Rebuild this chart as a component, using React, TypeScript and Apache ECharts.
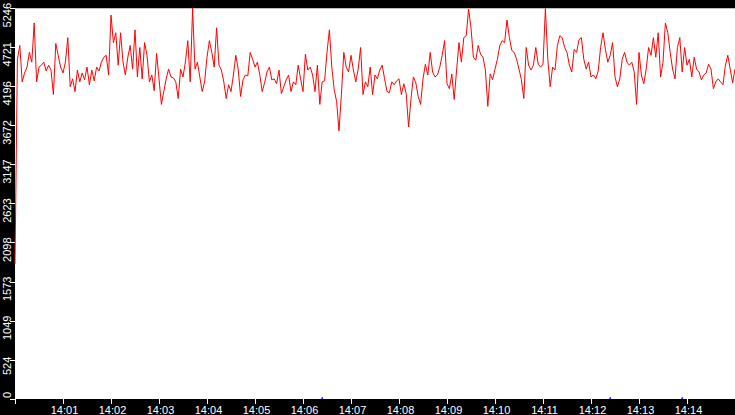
import React, { useEffect, useRef } from 'react';
import * as echarts from 'echarts';

// samples every 3 s starting 14:00:00
const START = new Date(2024, 0, 1, 14, 0, 0).getTime();
const STEP_MS = 3000;
const SPAN_MS = 15 * 60 * 1000;

const values: number[] = [
  1811, 4561, 4746, 4258, 4377, 4456, 4653, 4522, 5048, 4258,
  4456, 4482, 4522, 4403, 4482, 4416, 4087, 4772, 4614, 4456,
  4377, 4522, 4851, 4192, 4298, 4127, 4416, 4258, 4377, 4285,
  4456, 4219, 4416, 4271, 4456, 4403, 4522, 4588, 4614, 4350,
  5154, 4785, 4917, 4482, 4917, 4522, 4350, 4588, 4746, 4429,
  4956, 4324, 4719, 4298, 4785, 4614, 4258, 4350, 4140, 4640,
  4298, 3955, 4127, 4298, 4429, 4324, 4311, 4258, 4034, 4429,
  4324, 4522, 4811, 4258, 5246, 4429, 4522, 4324, 4127, 4258,
  4588, 4811, 4653, 4456, 4983, 4482, 4416, 4258, 4034, 4219,
  4127, 4350, 4614, 4429, 4061, 4285, 4350, 4338, 4653, 4561,
  4456, 4522, 4350, 4127, 4245, 4390, 4456, 4285, 4298, 4232,
  4416, 4100, 4192, 4285, 4350, 4127, 4258, 4219, 4482, 4298,
  4127, 4627, 4416, 4456, 4350, 4127, 4482, 3955, 4258, 4271,
  4653, 4956, 4456, 4153, 3995, 3600, 4087, 4653, 4456, 4390,
  4614, 4416, 4258, 4429, 4719, 4087, 4258, 4192, 4456, 4087,
  4350, 4298, 4416, 4482, 4298, 4127, 4114, 4258, 4219, 4271,
  4298, 4087, 4232, 4100, 3652, 4034, 4324, 4245, 4061, 3955,
  4298, 4495, 4350, 4653, 4390, 4324, 4350, 4456, 4614, 4811,
  4232, 4166, 4364, 4021, 4416, 4785, 4522, 4851, 4877, 5233,
  4983, 4588, 4548, 4746, 4627, 4588, 4416, 3929, 4364, 4285,
  4429, 4561, 4746, 4811, 4785, 5088, 4851, 4680, 4653, 4561,
  4429, 4285, 4034, 4719, 4482, 4416, 4482, 4719, 4495, 4456,
  4495, 5240, 4561, 4192, 4456, 4416, 4746, 4877, 4851, 4719,
  4653, 4482, 4390, 4693, 4653, 4825, 4851, 4561, 4429, 4522,
  4324, 4350, 4298, 4403, 4719, 4917, 4693, 4522, 4614, 4785,
  4324, 4192, 4298, 4561, 4653, 4522, 4482, 4522, 4390, 3955,
  4653, 4350, 4232, 4429, 4719, 4614, 4851, 4588, 4917, 4324,
  4522, 5048, 4917, 4653, 4429, 4298, 4719, 4851, 4390, 4719,
  4482, 4561, 4324, 4588, 4429, 4390, 4285, 4350, 4377, 4495,
  4429, 4166, 4258, 4298, 4258, 4219, 4482, 4614, 4429, 4245, 4429,
];

// small blue marks sitting on the time axis (sample index, value)
const blueIndex: number[] = [128, 248, 278];
const blueValues: number[] = [10, 10, 10];

const Y_MAX = 5246;
const Y_SPLITS = 10;

const FONT = 'Liberation Sans';

const pad2 = (n: number) => (n < 10 ? '0' + n : String(n));

const App: React.FC = () => {
  const chartref = useRef<HTMLDivElement>(null);
  useEffect(() => {
    const myChart = echarts.init(chartref.current as HTMLDivElement, undefined, {
      renderer: 'svg',
    });
    const lineData = values.map((v, i) => [START + i * STEP_MS, v]);
    const blueData = blueIndex.map((idx, i) => [START + idx * STEP_MS, blueValues[i]]);

    const option: echarts.EChartsOption = {
      animation: false,
      backgroundColor: '#000',
      grid: {
        left: 15,
        right: 0,
        top: 0,
        bottom: 16,
        show: true,
        backgroundColor: '#fff',
        borderWidth: 0,
      },
      xAxis: {
        type: 'time',
        min: START,
        max: START + SPAN_MS,
        minInterval: 60000,
        maxInterval: 60000,
        splitNumber: 15,
        axisLine: { show: false },
        axisTick: { show: true, length: 5, lineStyle: { color: '#fff', width: 1 } },
        splitLine: { show: false },
        axisLabel: {
          color: '#fff',
          fontFamily: FONT,
          fontSize: 11,
          margin: 5,
          padding: [0, 0, 0, 3],
          formatter: (v: number) => {
            if (v <= START || v >= START + SPAN_MS) return '';
            const d = new Date(v);
            return pad2(d.getHours()) + ':' + pad2(d.getMinutes());
          },
          showMinLabel: false,
          showMaxLabel: false,
          hideOverlap: false,
        },
      },
      yAxis: {
        type: 'value',
        min: 0,
        max: Y_MAX,
        interval: Y_MAX / Y_SPLITS,
        axisLine: { show: false },
        axisTick: { show: true, length: 5, lineStyle: { color: '#fff', width: 1 } },
        splitLine: { show: false },
        axisLabel: {
          rotate: 90,
          margin: 3,
          color: '#fff',
          fontFamily: FONT,
          fontSize: 11,
          formatter: (v: number) => {
            const s = String(Math.floor(v + 1e-6));
            if (v === 0) return '{z|' + s + '}';
            return (s.length >= 4 ? '{a|' : '{b|') + s + '}';
          },
          rich: {
            a: { color: '#fff', fontFamily: FONT, fontSize: 11, padding: [0, 14, 0, 0] },
            b: { color: '#fff', fontFamily: FONT, fontSize: 11, padding: [0, 12, 0, 0] },
            z: { color: '#fff', fontFamily: FONT, fontSize: 11, padding: [0, 0, 0, 8] },
          },
        },
      },
      series: [
        {
          name: 'value',
          type: 'line',
          data: lineData,
          showSymbol: false,
          symbol: 'none',
          lineStyle: { color: '#ff0000', width: 1 },
          itemStyle: { color: '#ff0000' },
        },
        {
          name: 'marks',
          type: 'scatter',
          data: blueData,
          symbolSize: 2,
          itemStyle: { color: '#0000ff' },
        },
      ],
    };
    myChart.setOption(option);

    return () => {
      myChart.dispose();
    };
  }, []);

  return (
    <div
      ref={chartref}
      style={{ position: 'absolute', left: 0, top: 0, width: 735, height: 415 }}
    />
  );
};
export default App;
